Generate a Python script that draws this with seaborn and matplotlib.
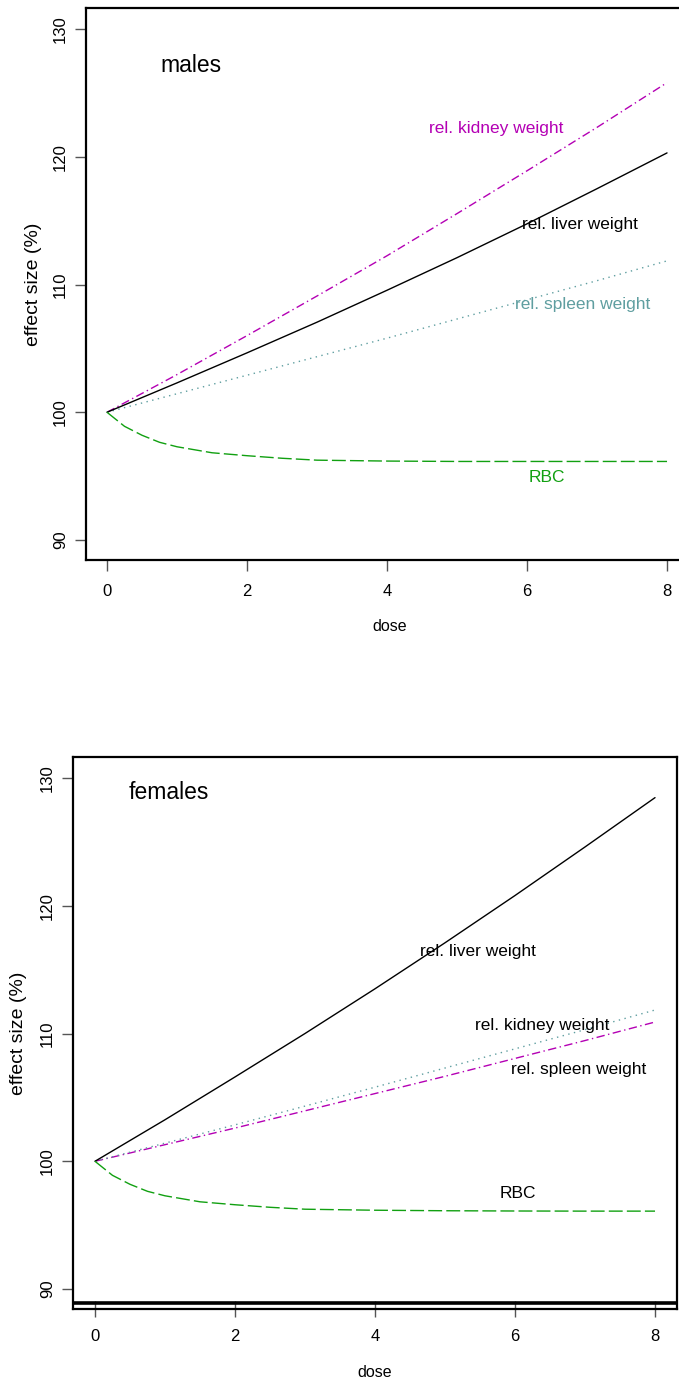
import matplotlib
matplotlib.use("Agg")
import matplotlib.pyplot as plt
import seaborn as sns

sns.set_style("white")
plt.rcParams['font.family'] = ['Liberation Sans', 'DejaVu Sans']
plt.rcParams['text.color'] = 'black'
plt.rcParams['xtick.color'] = 'black'
plt.rcParams['ytick.color'] = 'black'
plt.rcParams['axes.labelcolor'] = 'black'

# ---- data ----
dose = [0, 1, 2, 3, 4, 5, 6, 7, 8]
m_liver = [100, 102.3, 104.65, 107.05, 109.55, 112.1, 114.75, 117.5, 120.3]
m_kidney = [100, 102.95, 106.0, 109.1, 112.25, 115.55, 118.9, 122.3, 125.8]
m_spleen = [100, 101.45, 102.9, 104.35, 105.8, 107.3, 108.8, 110.3, 111.85]
f_liver = [100, 103.25, 106.6, 110.0, 113.5, 117.1, 120.8, 124.6, 128.46]
f_kidney = [100, 101.3, 102.6, 103.95, 105.3, 106.65, 108.05, 109.45, 110.9]
f_spleen = [100, 101.42, 102.85, 104.32, 105.8, 107.3, 108.8, 110.3, 111.84]
rbc_dose = [0, 0.25, 0.5, 0.75, 1, 1.5, 2, 2.5, 3, 4, 5, 6, 7, 8]
m_rbc = [100, 98.9, 98.2, 97.65, 97.3, 96.83, 96.6, 96.4, 96.25, 96.18, 96.15, 96.15, 96.15, 96.15]
f_rbc = [100, 98.9, 98.2, 97.65, 97.3, 96.83, 96.6, 96.4, 96.25, 96.17, 96.13, 96.11, 96.1, 96.1]
x_ticks = [0, 2, 4, 6, 8]
y_ticks = [90, 100, 110, 120, 130]

C_MAG = "#B400B4"
C_TEAL = "#5F9EA0"
C_GREEN = "#11A011"

fig = plt.figure(figsize=(6.79, 13.85), dpi=100)
ax1 = fig.add_axes([86/679, 0.5957, 607/679, 0.3985])
ax2 = fig.add_axes([73/679, 0.05487, 604/679, 0.39856])

def draw(ax, liver, kidney, spleen, rbc):
    sns.lineplot(x=dose, y=kidney, ax=ax, color=C_MAG, lw=1.0,
                 linestyle=(0, (6, 2.5, 1, 2.5)))
    sns.lineplot(x=dose, y=spleen, ax=ax, color=C_TEAL, lw=1.0,
                 linestyle=(0, (1, 3.2)))
    sns.lineplot(x=dose, y=liver, ax=ax, color="black", lw=1.0)
    sns.lineplot(x=rbc_dose, y=rbc, ax=ax, color=C_GREEN, lw=1.0,
                 linestyle=(0, (10, 3)))

draw(ax1, m_liver, m_kidney, m_spleen, m_rbc)
draw(ax2, f_liver, f_kidney, f_spleen, f_rbc)

ax1.set_xlim(-0.3, 8.371)
ax1.set_ylim(88.44, 131.64)
ax2.set_xlim(-0.314, 8.314)
ax2.set_ylim(88.44, 131.64)
ax2.axhline(88.9, color="black", lw=2.6)

for ax, ypad in ((ax1, 8), (ax2, 9)):
    ax.set_xticks(x_ticks)
    ax.set_yticks(y_ticks)
    ax.set_xticklabels([str(v) for v in x_ticks], fontsize=12)
    ax.set_yticklabels([str(v) for v in y_ticks], fontsize=12, rotation=90, va="center")
    ax.tick_params(axis="both", direction="out", length=8, width=1.0,
                   color="#555555", pad=5, bottom=True, left=True)
    ax.tick_params(axis="x", pad=9)
    for s in ax.spines.values():
        s.set_visible(True)
        s.set_color("black")
        s.set_linewidth(1.6)
    ax.set_xlabel("dose", fontsize=11.5, labelpad=15)
    ax.set_ylabel("effect size (%)", fontsize=14, labelpad=ypad)
    ax.grid(False)

ax2.tick_params(axis="x", direction="inout", length=11)

FS = 12.5
# labels, males
ax1.text(1.2, 127.17, "males", fontsize=16.5, ha="center", va="center")
ax1.text(5.56, 122.2, "rel. kidney weight", fontsize=FS, color=C_MAG, ha="center", va="center")
ax1.text(6.76, 114.7, "rel. liver weight", fontsize=FS, color="black", ha="center", va="center")
ax1.text(6.79, 108.47, "rel. spleen weight", fontsize=FS, color=C_TEAL, ha="center", va="center")
ax1.text(6.29, 94.93, "RBC", fontsize=FS, color=C_GREEN, ha="center", va="center")

# labels, females
ax2.text(1.06, 128.83, "females", fontsize=16.5, ha="center", va="center")
ax2.text(5.47, 116.38, "rel. liver weight", fontsize=FS, ha="center", va="center")
ax2.text(6.39, 110.59, "rel. kidney weight", fontsize=FS, ha="center", va="center")
ax2.text(6.91, 107.22, "rel. spleen weight", fontsize=FS, ha="center", va="center")
ax2.text(6.04, 97.51, "RBC", fontsize=FS, ha="center", va="center")

fig.savefig("out.png", dpi=100)
